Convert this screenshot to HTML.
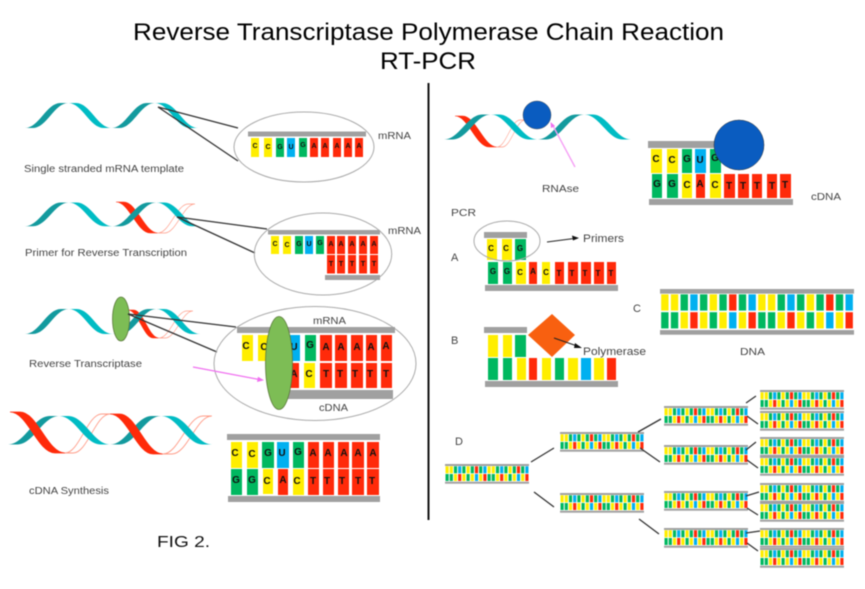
<!DOCTYPE html>
<html>
<head>
<meta charset="utf-8">
<style>
html,body{margin:0;padding:0;background:#fff;width:865px;height:589px;overflow:hidden}
svg{display:block;filter:blur(.4px)}
text{font-family:"Liberation Sans",sans-serif;fill:#444;font-size:10px}
.b{font-weight:bold;fill:#111;text-anchor:middle}
.y{fill:#ffee00}.g{fill:#00b860}.u{fill:#00b0f0}.r{fill:#ff2a0a}.k{fill:#a0a0a0}
.l{stroke:#333;stroke-width:1.3;fill:none}
.o{fill:none;stroke:#aaa;stroke-width:1}
.ol{fill:#fff;stroke:#ff9c88;stroke-width:.7;vector-effect:non-scaling-stroke}
.rd{fill:#ff2a0a;stroke:#ff2a0a;stroke-width:.5;vector-effect:non-scaling-stroke}
</style>
</head>
<body>
<svg width="865" height="589" viewBox="0 0 865 589" xmlns="http://www.w3.org/2000/svg">
<defs>
<path id="up" d="M0,25 C14,25 22,0 36,0 L44,0 C30,0 22,25 8,25 Z"/>
<path id="dn" d="M44,25 C30,25 22,0 8,0 L0,0 C14,0 22,25 36,25 Z"/>
<g id="w">
<use href="#up" fill="#139a9e"/><use href="#dn" x="44" fill="#00bcc4"/>
<use href="#up" x="88" fill="#139a9e"/><use href="#dn" x="132" fill="#00bcc4"/>
</g>
<g id="m10">
<rect x=".5" y="2.3" width="3.2" height="7" class="y"/><rect x="4.7" y="2.3" width="3.2" height="7" class="y"/><rect x="8.9" y="2.3" width="3.2" height="7" class="g"/><rect x="13.1" y="2.3" width="3.2" height="7" class="u"/><rect x="17.3" y="2.3" width="3.2" height="7" class="g"/><rect x="21.5" y="2.3" width="3.2" height="7" class="y"/><rect x="25.7" y="2.3" width="3.2" height="7" class="g"/><rect x="29.9" y="2.3" width="3.2" height="7" class="r"/><rect x="34.1" y="2.3" width="3.2" height="7" class="g"/><rect x="38.3" y="2.3" width="3.2" height="7" class="u"/>
<rect x=".5" y="10" width="3.2" height="7" class="g"/><rect x="4.7" y="10" width="3.2" height="7" class="g"/><rect x="8.9" y="10" width="3.2" height="7" class="y"/><rect x="13.1" y="10" width="3.2" height="7" class="r"/><rect x="17.3" y="10" width="3.2" height="7" class="y"/><rect x="21.5" y="10" width="3.2" height="7" class="g"/><rect x="25.7" y="10" width="3.2" height="7" class="y"/><rect x="29.9" y="10" width="3.2" height="7" class="u"/><rect x="34.1" y="10" width="3.2" height="7" class="y"/><rect x="38.3" y="10" width="3.2" height="7" class="r"/>
</g>
<g id="m">
<rect width="84" height="2" class="k"/><rect y="17.7" width="84" height="2" class="k"/>
<use href="#m10"/><use href="#m10" x="42"/>
</g>
</defs>

<text x="133" y="40" style="font-size:24px;fill:#000" textLength="591" lengthAdjust="spacingAndGlyphs">Reverse Transcriptase Polymerase Chain Reaction</text>
<text x="380" y="69" style="font-size:24px;fill:#000" textLength="96" lengthAdjust="spacingAndGlyphs">RT-PCR</text>
<rect x="427.5" y="83" width="2" height="437" fill="#111"/>

<!-- helix 1 -->
<use href="#w" transform="translate(25,103) scale(.983,1)"/>
<path class="l" d="M238,128L158,107L238,161"/>
<ellipse class="o" cx="304" cy="147" rx="70" ry="35"/>
<rect x="248" y="131.5" width="118" height="5" class="k"/>
<g>
<rect x="251" y="138" width="8" height="19" class="y"/><rect x="264" y="138" width="8" height="19" class="y"/><rect x="276" y="138" width="8" height="19" class="g"/><rect x="287" y="138" width="8" height="19" class="u"/><rect x="299" y="138" width="8" height="19" class="g"/><rect x="310" y="138" width="8" height="19" class="r"/><rect x="321" y="138" width="8" height="19" class="r"/><rect x="333" y="138" width="8" height="19" class="r"/><rect x="344" y="138" width="8" height="19" class="r"/><rect x="355" y="138" width="8" height="19" class="r"/>
<g>
<text class="b" style="font-size:7px" x="255" y="148">C</text><text class="b" style="font-size:7px" x="268" y="149">C</text><text class="b" style="font-size:7px" x="280" y="149">G</text><text class="b" style="font-size:7px" x="291" y="149">U</text><text class="b" style="font-size:7px" x="303" y="147">G</text><text class="b" style="font-size:7px" x="314" y="148">A</text><text class="b" style="font-size:7px" x="325" y="148">A</text><text class="b" style="font-size:7px" x="337" y="148">A</text><text class="b" style="font-size:7px" x="348" y="148">A</text><text class="b" style="font-size:7px" x="359" y="148">A</text>
</g>
</g>
<text x="378" y="139" textLength="33" lengthAdjust="spacingAndGlyphs">mRNA</text>
<text x="24" y="172" textLength="160" lengthAdjust="spacingAndGlyphs">Single stranded mRNA template</text>

<!-- helix 2 -->
<use href="#up" class="ol" transform="translate(158,204) scale(.84,1.16)"/>
<use href="#dn" class="rd" transform="translate(116,202) scale(.95,1.24)"/>
<use href="#w" transform="translate(25,202.5) scale(.995,.95)"/>
<path class="l" d="M267,229L177,217L255,253"/>
<ellipse class="o" cx="323" cy="254" rx="68.7" ry="41"/>
<rect x="268" y="230" width="112" height="4.5" class="k"/>
<rect x="325" y="275" width="55" height="5" class="k"/>
<rect x="271" y="236" width="8" height="18" class="y"/><rect x="283" y="236" width="8" height="18" class="y"/><rect x="295" y="236" width="8" height="18" class="g"/><rect x="305" y="236" width="8" height="18" class="u"/><rect x="316" y="236" width="8" height="18" class="g"/><rect x="327" y="236" width="8" height="18" class="r"/><rect x="337" y="236" width="8" height="18" class="r"/><rect x="348" y="236" width="8" height="18" class="r"/><rect x="359" y="236" width="8" height="18" class="r"/><rect x="370" y="236" width="8" height="18" class="r"/>
<rect x="327" y="255" width="8" height="18.5" class="r"/><rect x="337" y="255" width="8" height="18.5" class="r"/><rect x="348" y="255" width="8" height="18.5" class="r"/><rect x="359" y="255" width="8" height="18.5" class="r"/><rect x="370" y="255" width="8" height="18.5" class="r"/>
<text class="b" style="font-size:7px" x="275" y="246">C</text><text class="b" style="font-size:7px" x="287" y="247">C</text><text class="b" style="font-size:7px" x="299" y="246">G</text><text class="b" style="font-size:7px" x="309" y="246">U</text><text class="b" style="font-size:7px" x="320" y="245">G</text><text class="b" style="font-size:7px" x="331" y="246">A</text><text class="b" style="font-size:7px" x="341" y="246">A</text><text class="b" style="font-size:7px" x="352" y="246">A</text><text class="b" style="font-size:7px" x="363" y="246">A</text><text class="b" style="font-size:7px" x="374" y="246">A</text>
<text class="b" style="font-size:7px" x="331" y="266">T</text><text class="b" style="font-size:7px" x="341" y="266">T</text><text class="b" style="font-size:7px" x="352" y="266">T</text><text class="b" style="font-size:7px" x="363" y="266">T</text><text class="b" style="font-size:7px" x="374" y="266">T</text>
<text x="388" y="234" textLength="33" lengthAdjust="spacingAndGlyphs">mRNA</text>
<text x="25" y="256" textLength="162" lengthAdjust="spacingAndGlyphs">Primer for Reverse Transcription</text>

<!-- helix 3 -->
<use href="#up" class="ol" transform="translate(159,311) scale(.77,1.08)"/>
<use href="#dn" class="rd" transform="translate(128,310) scale(.7,1.12)"/>
<use href="#w" transform="translate(25,309) scale(.995,1)"/>
<ellipse cx="121" cy="319" rx="8.5" ry="22" fill="#7dbd55" stroke="#5c7a3c" stroke-width=".8"/>
<path class="l" d="M236,327L128,314L217,352"/>
<ellipse class="o" cx="315" cy="363.5" rx="101" ry="57"/>
<rect x="237" y="327" width="158" height="6" class="k"/>
<rect x="280" y="390" width="113" height="9" class="k"/>
<rect x="242" y="335" width="11" height="26" class="y"/><rect x="258" y="335" width="12" height="26" class="y"/><rect x="273" y="335" width="12" height="26" class="g"/><rect x="288" y="335" width="12" height="26" class="u"/><rect x="305" y="335" width="11" height="26" class="g"/><rect x="320" y="335" width="12" height="26" class="r"/><rect x="335" y="335" width="12" height="26" class="r"/><rect x="351" y="335" width="12" height="26" class="r"/><rect x="366" y="335" width="11" height="26" class="r"/><rect x="381" y="335" width="11" height="26" class="r"/>
<rect x="287" y="363" width="12" height="25" class="r"/><rect x="304" y="363" width="11" height="25" class="y"/><rect x="320" y="363" width="12" height="25" class="r"/><rect x="335" y="363" width="12" height="25" class="r"/><rect x="351" y="363" width="12" height="25" class="r"/><rect x="366" y="363" width="11" height="25" class="r"/><rect x="381" y="363" width="11" height="25" class="r"/>
<text class="b" x="246" y="349">C</text><text class="b" x="264" y="350">C</text><text class="b" x="294" y="350">U</text><text class="b" x="310" y="348">G</text><text class="b" x="326" y="350">A</text><text class="b" x="341" y="350">A</text><text class="b" x="357" y="350">A</text><text class="b" x="371" y="350">A</text><text class="b" x="386" y="349">A</text>
<text class="b" x="294" y="377">A</text><text class="b" x="309" y="377">C</text><text class="b" x="326" y="377">T</text><text class="b" x="340" y="377">T</text><text class="b" x="355" y="377">T</text><text class="b" x="370" y="377">T</text><text class="b" x="386" y="377">T</text>
<ellipse cx="279" cy="363" rx="13.5" ry="46.5" fill="#7dbd55" stroke="#5c7a3c" stroke-width=".8"/>
<path d="M193,367L262,380" stroke="#f070f0" stroke-width="1.2" fill="none"/>
<path d="M264,380.3L258,376.8L257,382Z" fill="#f070f0"/>
<text x="313" y="324" textLength="33" lengthAdjust="spacingAndGlyphs">mRNA</text>
<text x="319" y="411" textLength="29" lengthAdjust="spacingAndGlyphs">cDNA</text>
<text x="29" y="367" textLength="113" lengthAdjust="spacingAndGlyphs">Reverse Transcriptase</text>

<!-- helix 4 -->
<use href="#up" class="ol" transform="translate(65,414) scale(1.02,1.56)"/>
<use href="#up" class="ol" transform="translate(163,416) scale(1.11,1.52)"/>
<use href="#w" transform="translate(8,416) scale(1.16,1.14)"/>
<use href="#dn" class="rd" transform="translate(10,412) scale(1.25,1.64)"/>
<use href="#dn" class="rd" transform="translate(110,414) scale(1.2,1.6)"/>
<rect x="227" y="434" width="153" height="6" class="k"/>
<rect x="228" y="496" width="152" height="6" class="k"/>
<rect x="231" y="442" width="11" height="26" class="y"/><rect x="247" y="442" width="11" height="26" class="y"/><rect x="262" y="442" width="12" height="26" class="g"/><rect x="277" y="442" width="12" height="26" class="u"/><rect x="293" y="442" width="11" height="26" class="g"/><rect x="308" y="442" width="11" height="26" class="r"/><rect x="323" y="442" width="11" height="26" class="r"/><rect x="338" y="442" width="11" height="26" class="r"/><rect x="352" y="442" width="12" height="26" class="r"/><rect x="367" y="442" width="12" height="26" class="r"/>
<rect x="231" y="469" width="11" height="26" class="g"/><rect x="247" y="469" width="11" height="26" class="g"/><rect x="263" y="469" width="10" height="25" class="y"/><rect x="278" y="469" width="10" height="26" class="r"/><rect x="293" y="469" width="11" height="26" class="y"/><rect x="308" y="469" width="11" height="26" class="r"/><rect x="323" y="469" width="11" height="26" class="r"/><rect x="338" y="469" width="11" height="26" class="r"/><rect x="352" y="469" width="12" height="26" class="r"/><rect x="367" y="469" width="12" height="26" class="r"/>
<text class="b" x="235" y="456">C</text><text class="b" x="252" y="457">C</text><text class="b" x="268" y="456">G</text><text class="b" x="282" y="456">U</text><text class="b" x="298" y="455">G</text><text class="b" x="313" y="456">A</text><text class="b" x="328" y="456">A</text><text class="b" x="344" y="456">A</text><text class="b" x="358" y="456">A</text><text class="b" x="373" y="456">A</text>
<text class="b" x="236" y="483">G</text><text class="b" x="252" y="483">G</text><text class="b" x="267" y="484">C</text><text class="b" x="283" y="483">A</text><text class="b" x="297" y="484">C</text><text class="b" x="313" y="484">T</text><text class="b" x="327" y="484">T</text><text class="b" x="342" y="484">T</text><text class="b" x="358" y="484">T</text><text class="b" x="372" y="484">T</text>
<text x="29" y="494" textLength="80" lengthAdjust="spacingAndGlyphs">cDNA Synthesis</text>
<text x="157" y="547" style="font-size:16px;fill:#111" textLength="53" lengthAdjust="spacingAndGlyphs">FIG 2.</text>

<!-- RNAse helix -->
<use href="#up" class="ol" transform="translate(497,120) scale(.64,1.08)"/>
<use href="#dn" class="rd" transform="translate(455,116) scale(.95,1.24)"/>
<use href="#w" transform="translate(444,114.5) scale(1.063,1)"/>
<circle cx="537" cy="115" r="14" fill="#0a5cc0" stroke="#333" stroke-width=".4"/>
<path d="M575,167L552,124" stroke="#f5a0f5" stroke-width="1.4" fill="none"/>
<path d="M550.5,122L551,128L555,126Z" fill="#f070f0"/>
<text x="542" y="192" textLength="37" lengthAdjust="spacingAndGlyphs">RNAse</text>

<!-- right block -->
<rect x="648" y="141" width="70" height="7" class="k"/>
<rect x="649" y="199" width="144" height="6" class="k"/>
<rect x="651" y="149" width="11" height="24" class="y"/><rect x="667" y="149" width="11" height="24" class="y"/><rect x="682" y="149" width="10" height="24" class="g"/><rect x="695" y="149" width="11" height="24" class="u"/><rect x="710" y="149" width="11" height="24" class="g"/>
<rect x="652" y="174" width="10" height="24" class="g"/><rect x="667" y="174" width="11" height="24" class="g"/><rect x="682" y="174" width="10" height="24" class="y"/><rect x="696" y="174" width="9" height="24" class="r"/><rect x="710" y="174" width="11" height="24" class="y"/><rect x="724" y="174" width="11" height="24" class="r"/><rect x="738" y="174" width="11" height="24" class="r"/><rect x="752" y="174" width="10" height="24" class="r"/><rect x="767" y="174" width="10" height="24" class="r"/><rect x="780" y="174" width="11" height="24" class="r"/>
<text class="b" x="656" y="162">C</text><text class="b" x="672" y="163">C</text><text class="b" x="687" y="162">G</text><text class="b" x="700" y="163">U</text><text class="b" x="715" y="161">G</text>
<text class="b" x="657" y="187">G</text><text class="b" x="672" y="187">G</text><text class="b" x="687" y="188">C</text><text class="b" x="700" y="187">A</text><text class="b" x="715" y="188">C</text><text class="b" x="729" y="189">T</text><text class="b" x="743" y="189">T</text><text class="b" x="757" y="189">T</text><text class="b" x="772" y="189">T</text><text class="b" x="785" y="188">T</text>
<circle cx="739" cy="145" r="25" fill="#0a5cc0" stroke="#333" stroke-width=".5"/>
<text x="811" y="200" textLength="30" lengthAdjust="spacingAndGlyphs">cDNA</text>

<!-- PCR A -->
<text x="451" y="216" textLength="25" lengthAdjust="spacingAndGlyphs">PCR</text>
<text x="451" y="261" style="font-size:11px">A</text>
<rect x="484" y="232" width="43" height="6" class="k"/>
<rect x="485" y="285" width="133" height="6" class="k"/>
<rect x="487" y="239" width="10" height="21" class="y"/><rect x="502" y="239" width="10" height="21" class="y"/><rect x="515" y="239" width="11" height="21" class="g"/>
<rect x="488" y="262" width="10" height="22" class="g"/><rect x="503" y="262" width="9" height="22" class="g"/><rect x="516" y="262" width="10" height="22" class="y"/><rect x="529" y="262" width="8" height="22" class="r"/><rect x="542" y="262" width="8" height="22" class="y"/><rect x="555" y="262" width="9" height="22" class="r"/><rect x="568" y="262" width="10" height="22" class="r"/><rect x="581" y="262" width="10" height="22" class="r"/><rect x="594" y="262" width="10" height="22" class="r"/><rect x="607" y="262" width="9" height="22" class="r"/>
<text class="b" style="font-size:8px" x="491" y="251">C</text><text class="b" style="font-size:8px" x="506" y="251">C</text><text class="b" style="font-size:8px" x="520" y="251">G</text>
<text class="b" style="font-size:8px" x="493" y="274">G</text><text class="b" style="font-size:8px" x="507" y="274">G</text><text class="b" style="font-size:8px" x="520" y="275">C</text><text class="b" style="font-size:8px" x="533" y="274">A</text><text class="b" style="font-size:8px" x="546" y="275">C</text><text class="b" style="font-size:8px" x="559" y="276">T</text><text class="b" style="font-size:8px" x="572" y="276">T</text><text class="b" style="font-size:8px" x="585" y="276">T</text><text class="b" style="font-size:8px" x="598" y="276">T</text><text class="b" style="font-size:8px" x="611" y="276">T</text>
<ellipse class="o" cx="507" cy="241" rx="33" ry="20"/>
<path d="M547,242L576,238.3" stroke="#222" stroke-width="1" fill="none"/>
<path d="M579,238L572,235.5L573,240.5Z" fill="#111"/>
<text x="583" y="242" style="font-size:11px" textLength="41" lengthAdjust="spacingAndGlyphs">Primers</text>

<!-- PCR B -->
<text x="451" y="344" style="font-size:11px">B</text>
<rect x="484" y="327" width="43" height="6" class="k"/>
<rect x="485" y="381" width="133" height="6" class="k"/>
<rect x="488" y="335" width="10" height="22" class="y"/><rect x="503" y="335" width="9" height="22" class="y"/><rect x="515" y="335" width="11" height="22" class="g"/>
<rect x="488" y="358" width="10" height="22" class="g"/><rect x="503" y="358" width="9" height="22" class="g"/><rect x="517" y="358" width="9" height="22" class="y"/><rect x="529" y="358" width="8" height="22" class="r"/><rect x="542" y="358" width="9" height="22" class="y"/><rect x="555" y="358" width="9" height="22" class="g"/><rect x="568" y="358" width="10" height="22" class="y"/><rect x="581" y="358" width="10" height="22" class="u"/><rect x="594" y="358" width="10" height="22" class="y"/><rect x="607" y="358" width="9" height="22" class="r"/>
<path d="M552,314L575,335L552,357L528,335Z" fill="#f86010"/>
<path d="M554,338L580,347" stroke="#222" stroke-width="1" fill="none"/>
<path d="M582,348L575,343L574,348Z" fill="#111"/>
<text x="583" y="355" style="font-size:11px" textLength="63" lengthAdjust="spacingAndGlyphs">Polymerase</text>

<!-- PCR C -->
<text x="633" y="312" style="font-size:11px">C</text>
<use href="#m" transform="translate(660,289) scale(2.31,2.32)"/>
<text x="740" y="355" textLength="25" lengthAdjust="spacingAndGlyphs">DNA</text>

<!-- PCR D -->
<text x="455" y="445" style="font-size:11px">D</text>
<use href="#m" x="445" y="464"/>
<use href="#m" x="560" y="432"/><use href="#m" x="560" y="493"/>
<use href="#m" x="664" y="406"/><use href="#m" x="664" y="445"/><use href="#m" x="664" y="491"/><use href="#m" x="664" y="528"/>
<use href="#m" x="760" y="390"/><use href="#m" x="760" y="411"/><use href="#m" x="760" y="437"/><use href="#m" x="760" y="456"/><use href="#m" x="760" y="483"/><use href="#m" x="760" y="502"/><use href="#m" x="760" y="528"/><use href="#m" x="760" y="548"/>
<path class="l" d="M531,462L554,448M534,492L554,507M638,432L661,419M640,448L660,462M639,519L659,534M746,403L756,396M747,416L758,424M746,450L756,442M747,460L758,468M746,496L759,492M747,508L758,515M746,533L760,531M747,543L758,551"/>
</svg>
</body>
</html>
